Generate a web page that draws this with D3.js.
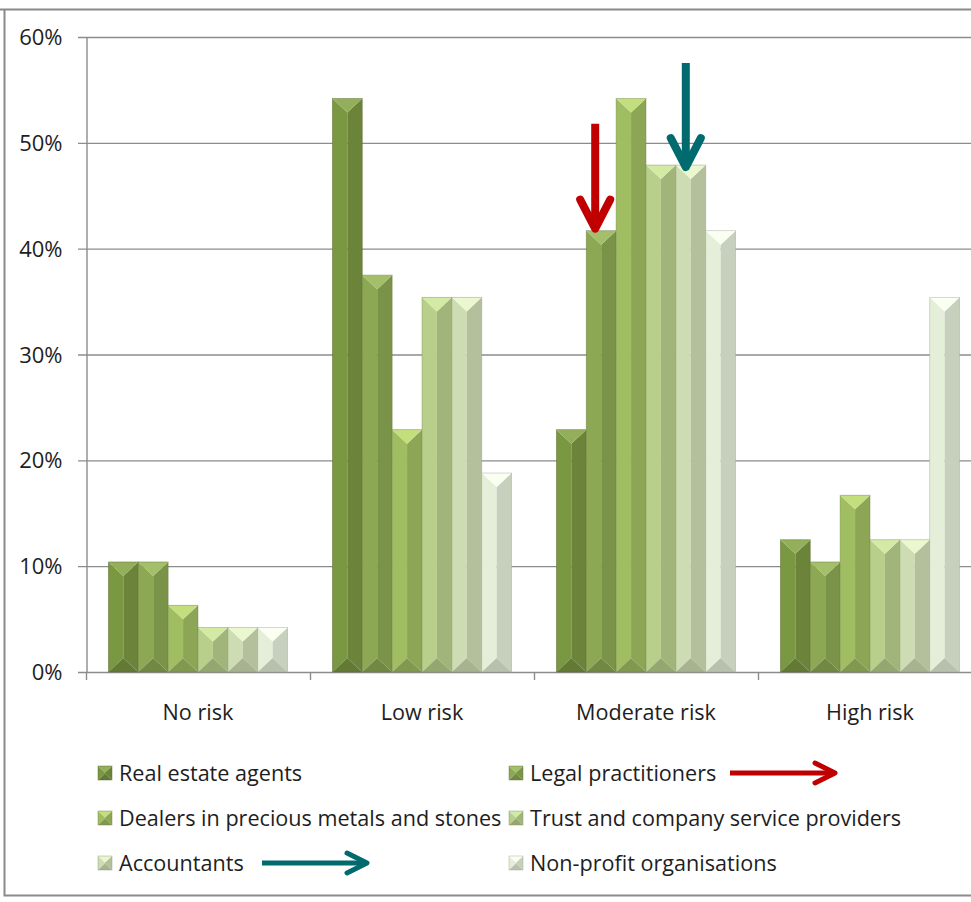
<!DOCTYPE html>
<html>
<head>
<meta charset="utf-8">
<script src="https://cdn.jsdelivr.net/npm/d3@7"></script>
<style>
  body { margin: 0; background: #fff; }
  text { font-family: "Open Sans", Lato, sans-serif; fill: #1e1e1e; }
</style>
</head>
<body>
<script>
const width = 971,
    height = 902,
    fontSize = "21.6px"

const categories = ["No risk", "Low risk", "Moderate risk", "High risk"]
const seriesNames = ["Real estate agents", "Legal practitioners", "Dealers in precious metals and stones",
    "Trust and company service providers", "Accountants", "Non-profit organisations"]

// percent of respondents per risk level
const realEstate = [10.4, 54.2, 22.9, 12.5]
const legal = [10.4, 37.5, 41.7, 10.4]
const dealers = [6.3, 22.9, 54.2, 16.7]
const trust = [4.2, 35.4, 47.9, 12.5]
const accountants = [4.2, 35.4, 47.9, 12.5]
const nonProfit = [4.2, 18.8, 41.7, 35.4]
const yTicks = [0, 10, 20, 30, 40, 50, 60]

const seriesValues = [realEstate, legal, dealers, trust, accountants, nonProfit]
const baseColors = ["#7a9741", "#8ca853", "#a0be61", "#b8cf8c", "#cddcb2", "#e4eed8"]
const topColors = ["#93af5b", "#a3bf69", "#c3de7d", "#d3eaa5", "#ebf7cf", "#fbfff2"]

const svg = d3.select("body")
    .append("svg")
    .attr("width", width)
    .attr("height", height)

// outer frame
svg.append("path")
    .attr("d", "M0,9.5 H980 M4.5,9.5 V895.5 H980")
    .attr("fill", "none")
    .attr("stroke", "#8a8a8a")
    .attr("stroke-width", 2)

const x0 = d3.scaleBand()
    .domain(categories)
    .range([86, 982])

const x1 = d3.scaleBand()
    .domain(seriesNames)
    .range([0, x0.bandwidth()])
    .paddingOuter(0.75)

const y = d3.scaleLinear()
    .domain([0, 60])
    .range([672, 37])

// gridlines
svg.append("g")
    .selectAll("line")
    .data(yTicks)
    .join("line")
    .attr("x1", 78)
    .attr("x2", width)
    .attr("y1", d => y(d) + 0.5)
    .attr("y2", d => y(d) + 0.5)
    .attr("stroke", "#8c8c8c")
    .attr("stroke-width", 1.4)

// y axis
const yAxis = svg.append("g")
    .attr("transform", "translate(86.5,0.5)")
    .call(d3.axisLeft(y).tickValues(yTicks).tickFormat(d => d + "%").tickSize(0).tickPadding(24))
yAxis.select(".domain").attr("stroke", "#8c8c8c").attr("stroke-width", 1.4)
yAxis.selectAll("text").style("font-size", "22px").attr("fill", "#1e1e1e")

// category separators below the axis
svg.append("g")
    .selectAll("line")
    .data(categories)
    .join("line")
    .attr("x1", d => x0(d) + 0.5)
    .attr("x2", d => x0(d) + 0.5)
    .attr("y1", y(0))
    .attr("y2", y(0) + 8)
    .attr("stroke", "#8c8c8c")
    .attr("stroke-width", 1.4)

// x axis labels
const xAxis = svg.append("g")
    .attr("transform", `translate(0,${y(0)})`)
    .call(d3.axisBottom(x0).tickSize(0).tickPadding(33))
xAxis.select(".domain").remove()
xAxis.selectAll("text").style("font-size", fontSize).attr("fill", "#1e1e1e")

// bevelled bar faces
function bevel(g, x, yTop, w, h, i) {
    const d = Math.min(w * 0.47, h / 2)
    const xc = x + w / 2, yb = yTop + h
    const base = d3.color(baseColors[i])
    const faces = [
        [[x, yTop], [xc, yTop + d], [xc, yb - d], [x, yb], base.formatHex()],
        [[x + w, yTop], [xc, yTop + d], [xc, yb - d], [x + w, yb], base.darker(0.38).formatHex()],
        [[x, yTop], [x + w, yTop], [xc, yTop + d], null, topColors[i]],
        [[x, yb], [x + w, yb], [xc, yb - d], null, base.darker(0.6).formatHex()]
    ]
    faces.forEach(f => {
        const pts = f.slice(0, 4).filter(p => p)
        g.append("path")
            .attr("d", "M" + pts.map(p => p.join(",")).join("L") + "Z")
            .attr("fill", f[4])
    })
    g.append("rect")
        .attr("x", x)
        .attr("y", yTop)
        .attr("width", w)
        .attr("height", h)
        .attr("fill", "none")
        .attr("stroke", base.darker(1).formatHex())
        .attr("stroke-opacity", 0.55)
        .attr("stroke-width", 0.8)
}

const groups = svg.append("g")
    .selectAll("g")
    .data(categories)
    .join("g")
    .attr("transform", d => `translate(${x0(d)},0)`)

groups.each(function(cat, ci) {
    const g = d3.select(this)
    seriesNames.forEach((s, si) => {
        const v = seriesValues[si][ci]
        bevel(g.append("g"), x1(s), y(v), x1.bandwidth(), y(0) - y(v), si)
    })
})

// legend
const legendCols = [98, 509]
const legendRows = [773, 818, 863]
const legend = svg.append("g")
    .selectAll("g")
    .data(seriesNames)
    .join("g")
    .attr("transform", (d, i) => `translate(${legendCols[i % 2]},${legendRows[Math.floor(i / 2)]})`)

legend.each(function(d, i) {
    bevel(d3.select(this), 0, -7, 14, 14, i)
})
legend.append("text")
    .attr("x", 21)
    .attr("dy", "0.35em")
    .style("font-size", fontSize)
    .text(d => d)

// annotation arrows
function arrow(x, yTip, len, color) {
    svg.append("line")
        .attr("x1", x).attr("x2", x)
        .attr("y1", yTip - len).attr("y2", yTip - 4)
        .attr("stroke", color).attr("stroke-width", 8)
    svg.append("path")
        .attr("d", `M${x - 15},${yTip - 29}L${x},${yTip}L${x + 15},${yTip - 29}`)
        .attr("fill", "none")
        .attr("stroke", color).attr("stroke-width", 8)
        .attr("stroke-linecap", "round").attr("stroke-linejoin", "round")
}
function sideArrow(x, yc, len, color) {
    svg.append("line")
        .attr("x1", x).attr("x2", x + len - 3)
        .attr("y1", yc).attr("y2", yc)
        .attr("stroke", color).attr("stroke-width", 5)
    svg.append("path")
        .attr("d", `M${x + len - 20},${yc - 10}L${x + len},${yc}L${x + len - 20},${yc + 10}`)
        .attr("fill", "none")
        .attr("stroke", color).attr("stroke-width", 5)
        .attr("stroke-linecap", "round").attr("stroke-linejoin", "round")
}

const red = "#c00000", teal = "#006a6e"
const mod = categories.indexOf("Moderate risk")
arrow(x0("Moderate risk") + x1(seriesNames[1]) + x1.bandwidth() / 2 - 6, y(legal[mod]) - 2, 105, red)
arrow(x0("Moderate risk") + x1(seriesNames[4]) + x1.bandwidth() / 2 - 5, y(accountants[mod]) + 2, 104, teal)

// legend arrows start at fixed spots, as in the source
sideArrow(730, legendRows[0], 105, red)
sideArrow(262, legendRows[2], 105, teal)
</script>
</body>
</html>
